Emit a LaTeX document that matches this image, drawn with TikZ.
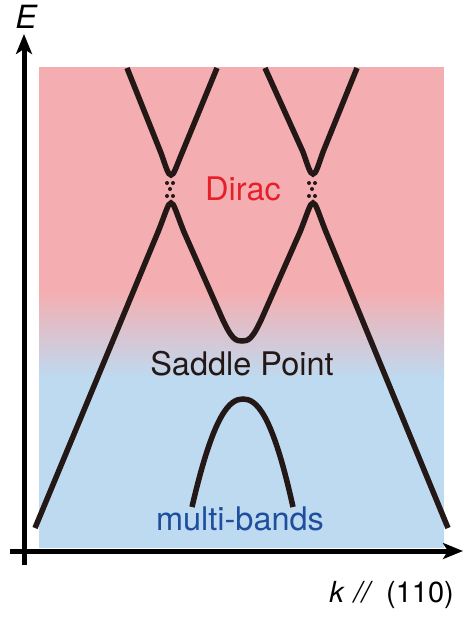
\documentclass[tikz,border=0pt]{standalone}
\usepackage{fontspec}
\setmainfont{TeX Gyre Heros}
\usetikzlibrary{arrows.meta}

\definecolor{topPink}{RGB}{244,174,177}
\definecolor{lowBlue}{RGB}{190,218,240}
\definecolor{diracRed}{RGB}{230,32,42}
\definecolor{multiBlue}{RGB}{31,78,158}
\definecolor{bandBlack}{RGB}{35,24,21}

\tikzset{
  band/.style={bandBlack, line width=5.5pt},
  axis/.style={black, line width=5pt, -{Stealth[length=20pt, width=16pt, inset=5pt]}},
  lbl/.style={font=\fontsize{32.5}{32.5}\selectfont, inner sep=0pt, anchor=base},
}

\begin{document}
\begin{tikzpicture}[x=1pt, y=-1pt]
    \useasboundingbox (0,0) rectangle (463,621);

    % ================= BACKGROUND =================
    \fill[topPink] (39,67) rectangle (444,292);
    \shade[top color=topPink, bottom color=lowBlue] (39,291) rectangle (444,378);
    \fill[lowBlue] (39,377) rectangle (444,548);

    % ================= AXES =================
    \coordinate (ybot)   at (24,565);
    \coordinate (ytop)   at (24,34);
    \coordinate (xleft)  at (10,551);
    \coordinate (xright) at (463,551);
    \draw[axis] (ybot) -- (ytop);
    \draw[axis] (xleft) -- (xright);

    \node[lbl, font=\fontsize{32}{32}\selectfont\itshape] (elabel) at (26,28) {E};
    \node[lbl, anchor=base east, font=\fontsize{29}{29}\selectfont] (klabel) at (454,602)
        {\textit{k}\hspace{9pt}\textit{//}\hspace{13pt}(110)};

    % ================= BANDS =================
    % 1. Upper Dirac cones
    \draw[band] (127,68) -- (161,153) .. controls (166,167) and (168,175) .. (171,175)
        .. controls (174,175) and (176,167) .. (182,153) -- (217,68);
    \draw[band] (265,68) -- (303,152) .. controls (308,166) and (310,174) .. (313,174)
        .. controls (316,174) and (318,166) .. (323,152) -- (357,68);

    % 2. Lower band with saddle point
    \draw[band] (35,528) -- (158,232) .. controls (166,212) and (168,203) .. (171,203)
        .. controls (174,203) and (176,212) .. (184,232) -- (222,318)
        .. controls (232,340) and (236,341) .. (242,341)
        .. controls (248,341) and (252,340) .. (262,318) -- (300,232)
        .. controls (308,212) and (310,203) .. (313,203)
        .. controls (316,203) and (318,212) .. (326,232) -- (448,528);

    % 3. Multi-bands (hole-like)
    \draw[band] (192,507) .. controls (214,412) and (230,399) .. (243,399)
        .. controls (256,399) and (272,412) .. (293,507);

    % 4. Dots at the Dirac points
    \foreach \x in {170,312}
        \foreach \dx/\y in {-3/183, 3/183, 0/189, -3/196, 3/196}
            \fill[bandBlack] (\x+\dx,\y) circle (2pt);

    % ================= LABELS =================
    \node[lbl, diracRed]  (dirac)  at (243,200) {Dirac};
    \node[lbl, bandBlack] (saddle) at (242,375) {Saddle Point};
    \node[lbl, multiBlue] (multi)  at (240,530) {multi-bands};

\end{tikzpicture}
\end{document}
